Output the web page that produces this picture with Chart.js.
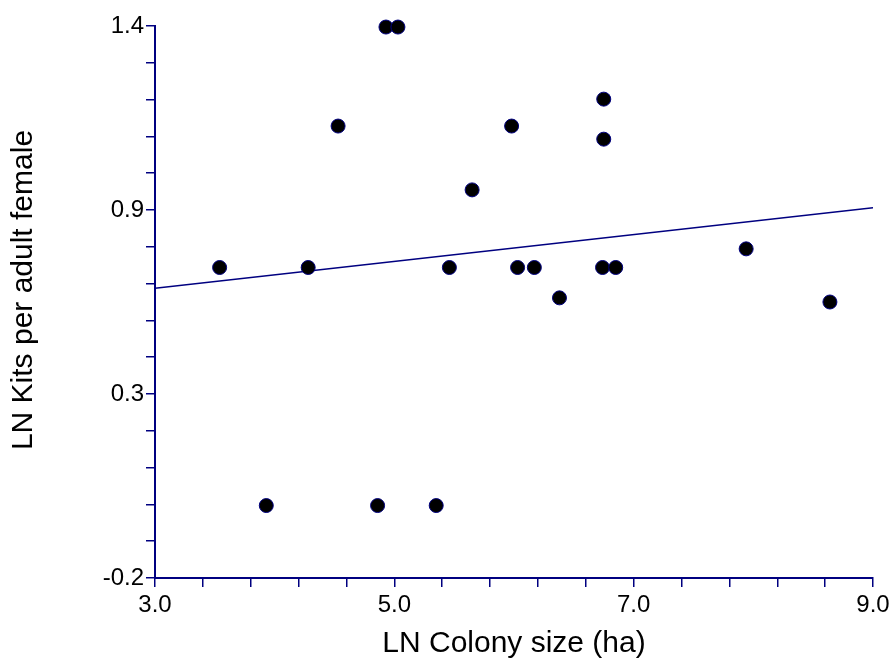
<!DOCTYPE html>
<html>
<head>
<meta charset="utf-8">
<script src="https://cdn.jsdelivr.net/npm/chart.js@4.4.1/dist/chart.umd.min.js"></script>
<style>
  body { margin: 0; background: #fff; }
</style>
</head>
<body>
<canvas id="grafico" width="895" height="669"></canvas>
<script>
const colonySize = [3.54, 3.93, 4.28, 4.53, 4.86, 4.93, 5.03, 5.35, 5.46, 5.65, 5.98, 6.03, 6.17, 6.38, 6.74, 6.75, 6.75, 6.85, 7.94, 8.64];
const kitsPerFemale = [0.70, 0.01, 0.70, 1.11, 0.01, 1.397, 1.397, 0.01, 0.70, 0.925, 1.11, 0.70, 0.70, 0.612, 0.70, 1.188, 1.072, 0.70, 0.754, 0.60];
const fitX = [3.0, 9.0];
const fitY = [0.640, 0.873];
const xTickValues = [3, 5, 7, 9];
const xTickLabels = ['3.0', '5.0', '7.0', '9.0'];
const yTickValues = [-0.2, 0.3333, 0.8667, 1.4];
const yTickLabels = ['-0.2', '0.3', '0.9', '1.4'];

const navy = '#000080';
const fontFam = '"Liberation Sans", Arial, sans-serif';

// major ticks split in 5 minor steps
function tickList(majors) {
  const out = [];
  for (let i = 0; i < majors.length - 1; i++) {
    const step = (majors[i + 1] - majors[i]) / 5;
    for (let j = 0; j < 5; j++) out.push(majors[i] + j * step);
  }
  out.push(majors[majors.length - 1]);
  return out;
}

function labelFor(majors, labels) {
  return (value) => {
    const i = majors.findIndex(m => Math.abs(m - value) < 1e-3);
    return i >= 0 ? labels[i] : '';
  };
}

const yTitle = {
  id: 'yTitle',
  afterDraw(chart) {
    const c = chart.ctx;
    c.save();
    c.translate(24, 290);
    c.rotate(-Math.PI / 2);
    c.font = '30px ' + fontFam;
    c.fillStyle = '#000';
    c.textAlign = 'center';
    c.textBaseline = 'middle';
    c.fillText('LN Kits per adult female', 0, 0);
    c.restore();
  }
};

const ctx = document.getElementById('grafico');
const grafico = new Chart(ctx, {
  type: 'scatter',
  data: {
    datasets: [{
      label: 'Colonies',
      data: colonySize.map((x, i) => ({ x: x, y: kitsPerFemale[i] })),
      backgroundColor: '#000',
      borderColor: navy,
      borderWidth: 1,
      pointRadius: 7,
      pointHoverRadius: 7,
      clip: false
    }, {
      label: 'Fit',
      data: fitX.map((x, i) => ({ x: x, y: fitY[i] })),
      showLine: true,
      borderColor: navy,
      borderWidth: 1.5,
      pointRadius: 0,
      fill: false
    }]
  },
  options: {
    responsive: false,
    animation: false,
    layout: { padding: { top: 26, right: 22, left: 0, bottom: 0 } },
    plugins: {
      legend: { display: false },
      tooltip: { enabled: false }
    },
    scales: {
      x: {
        type: 'linear',
        min: 3,
        max: 9,
        afterBuildTicks: (s) => { s.ticks = tickList(xTickValues).map(v => ({ value: v })); },
        afterFit: (s) => { s.height = 91; },
        ticks: {
          autoSkip: false,
          maxRotation: 0,
          padding: 4,
          color: '#000',
          font: { family: fontFam, size: 24 },
          callback: labelFor(xTickValues, xTickLabels)
        },
        grid: { drawOnChartArea: false, drawTicks: true, tickLength: 9, color: navy, lineWidth: 1.5 },
        border: { display: true, color: navy, width: 2 },
        title: {
          display: true,
          text: 'LN Colony size (ha)',
          color: '#000',
          font: { family: fontFam, size: 30 },
          padding: { top: 0, bottom: 7 }
        }
      },
      y: {
        type: 'linear',
        min: -0.2,
        max: 1.4,
        afterBuildTicks: (s) => { s.ticks = tickList(yTickValues).map(v => ({ value: v })); },
        afterFit: (s) => { s.width = 155; },
        ticks: {
          autoSkip: false,
          padding: 2,
          color: '#000',
          font: { family: fontFam, size: 24 },
          callback: labelFor(yTickValues, yTickLabels)
        },
        grid: { drawOnChartArea: false, drawTicks: true, tickLength: 9, color: navy, lineWidth: 1.5 },
        border: { display: true, color: navy, width: 2 }
      }
    }
  },
  plugins: [yTitle]
});
</script>
</body>
</html>
